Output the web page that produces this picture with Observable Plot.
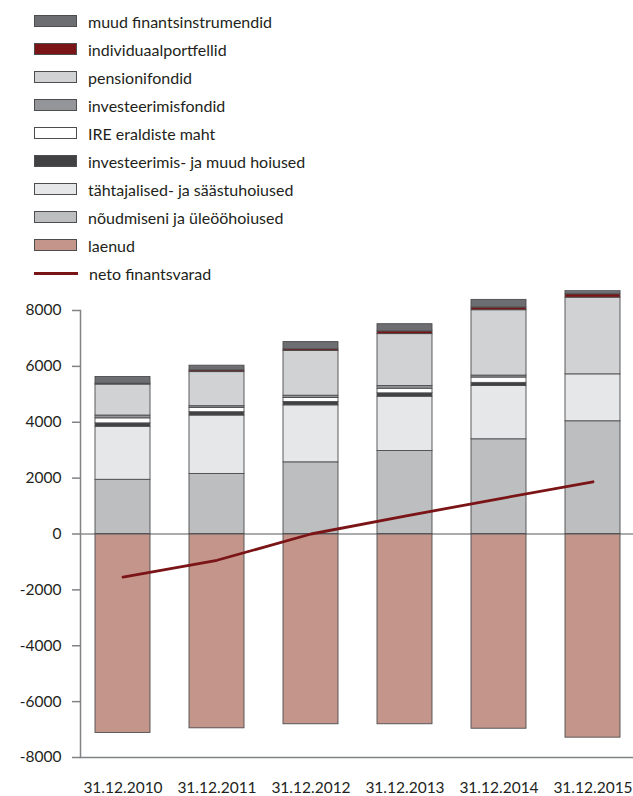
<!DOCTYPE html>
<html>
<head>
<meta charset="utf-8">
<script src="https://cdn.jsdelivr.net/npm/d3@7"></script>
<script src="https://cdn.jsdelivr.net/npm/@observablehq/plot@0.6"></script>
<style>
  html, body { margin: 0; padding: 0; background: #fff; }
  body { width: 633px; font-family: Lato, "Open Sans", sans-serif; color: #231f20; }
  #legend { height: 290px; box-sizing: border-box; padding-top: 7px; padding-left: 34px; }
  .row { height: 28px; display: flex; align-items: center; font-size: 16px; }
  .sw { width: 43px; height: 12px; box-sizing: border-box; border: 1px solid #4d4d4f; margin-right: 11px; }
  .ln { width: 44px; height: 3px; background: #7b1416; margin-right: 11px; }
  svg { display: block; }
</style>
</head>
<body>
<div id="legend"></div>
<div id="chart"></div>
<script>
const years = ["31.12.2010", "31.12.2011", "31.12.2012", "31.12.2013", "31.12.2014", "31.12.2015"];

const noudmiseni    = [1940, 2150, 2565, 2970, 3390, 4035];
const tahtajalised  = [1900, 2090, 2040, 1945, 1910, 1680];
const invHoiused    = [120, 120, 120, 120, 110, 0];
const ire           = [180, 155, 145, 165, 190, 0];
const invFondid     = [100, 60, 80, 95, 70, 0];
const pensioni      = [1110, 1220, 1600, 1860, 2340, 2745];
const individuaal   = [30, 60, 60, 95, 95, 120];
const muud          = [240, 170, 260, 260, 275, 310];
const laenud        = [-7120, -6955, -6810, -6810, -6970, -7290];
const neto          = [-1540, -940, 0, 640, 1260, 1870];

const yTicks = [-8000, -6000, -4000, -2000, 0, 2000, 4000, 6000, 8000];

// stacking order bottom -> top
const seriesNames = [
  "laenud",
  "nõudmiseni ja üleööhoiused",
  "tähtajalised- ja säästuhoiused",
  "investeerimis- ja muud hoiused",
  "IRE eraldiste maht",
  "investeerimisfondid",
  "pensionifondid",
  "individuaalportfellid",
  "muud finantsinstrumendid"
];
const seriesValues = [laenud, noudmiseni, tahtajalised, invHoiused, ire, invFondid, pensioni, individuaal, muud];
const seriesColors = ["#c4958b", "#bcbec0", "#e6e7e8", "#414042", "#ffffff", "#939598", "#d1d2d4", "#7b1416", "#6d6e71"];

// legend (top -> bottom)
const legend = document.getElementById("legend");
for (let i = seriesNames.length - 1; i >= 0; i--) {
  const row = document.createElement("div");
  row.className = "row";
  const sw = document.createElement("div");
  sw.className = "sw";
  sw.style.background = seriesColors[i];
  row.appendChild(sw);
  const t = document.createElement("span");
  t.textContent = seriesNames[i];
  row.appendChild(t);
  legend.appendChild(row);
}
{
  const row = document.createElement("div");
  row.className = "row";
  const ln = document.createElement("div");
  ln.className = "ln";
  row.appendChild(ln);
  const t = document.createElement("span");
  t.textContent = "neto finantsvarad";
  row.appendChild(t);
  legend.appendChild(row);
}

const data = [];
seriesNames.forEach((s, si) => {
  years.forEach((y, yi) => {
    const v = seriesValues[si][yi];
    if (v !== 0) data.push({year: y, series: s, value: v});
  });
});
const netoData = years.map((y, i) => ({year: y, value: neto[i]}));

const chart = Plot.plot({
  width: 633,
  height: 506,
  marginLeft: 80,
  marginRight: 0,
  marginTop: 20,
  marginBottom: 39,
  style: {fontFamily: "Lato, 'Open Sans', sans-serif", color: "#231f20", background: "#fff"},
  x: {domain: years, range: [73.5, 641], paddingInner: 0.42, paddingOuter: 0.21, label: null},
  y: {domain: [-8000, 8000], label: null},
  color: {domain: seriesNames, range: seriesColors},
  marks: [
    Plot.barY(data, {
      x: "year", y: "value", fill: "series",
      order: seriesNames,
      stroke: "#4d4d4f", strokeWidth: 0.9
    }),
    Plot.ruleY([0], {stroke: "#58595b", strokeWidth: 1}),
    Plot.ruleY([-8000], {stroke: "#808285", strokeWidth: 1.5}),
    Plot.frame({anchor: "left", stroke: "#808285", strokeWidth: 1.5}),
    Plot.axisY({ticks: yTicks, tickFormat: d => String(d), tickSize: 8, tickPadding: 11, fontSize: 15.5, stroke: "#808285", strokeWidth: 1.5}),
    Plot.axisX({tickSize: 0, tickPadding: 24, fontSize: 15.5}),
    Plot.line(netoData, {x: "year", y: "value", stroke: "#7b1416", strokeWidth: 2.8})
  ]
});
document.getElementById("chart").appendChild(chart);
</script>
</body>
</html>
